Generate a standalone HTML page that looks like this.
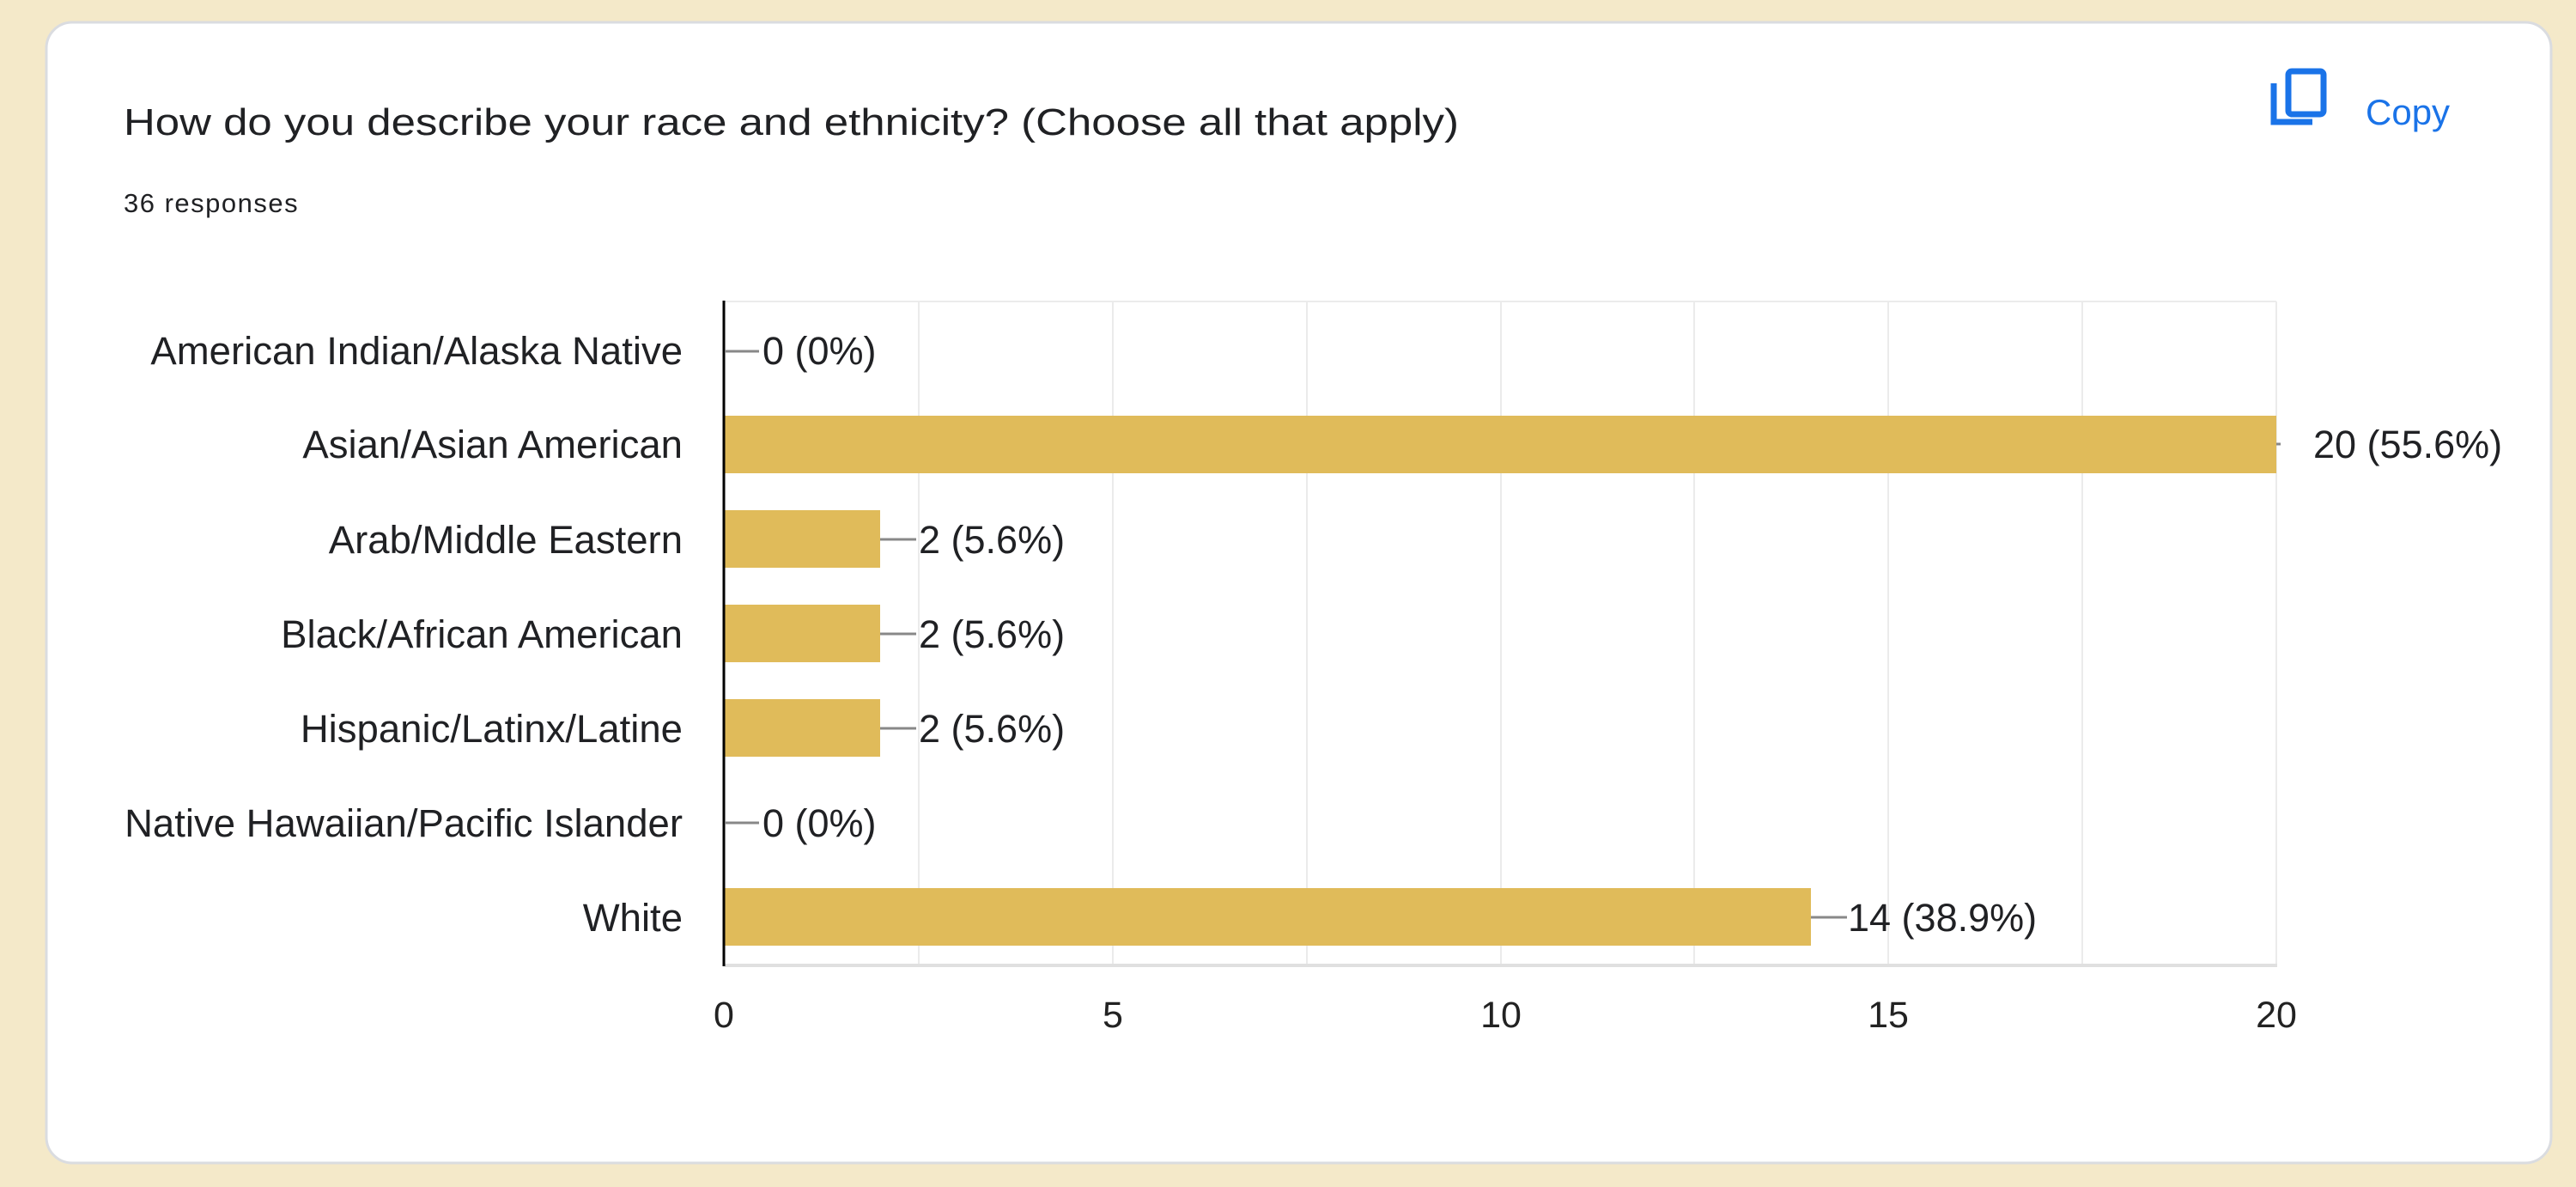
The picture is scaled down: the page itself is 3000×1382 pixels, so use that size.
<!DOCTYPE html>
<html><head><meta charset="utf-8"><style>
html,body{margin:0;padding:0;background:#f4e9c9;}
svg{display:block}
</style></head><body>
<svg width="3000" height="1382" viewBox="0 0 3000 1382" xmlns="http://www.w3.org/2000/svg" font-family="Liberation Sans, Arial, sans-serif">
<rect x="0" y="0" width="3000" height="1382" fill="#f4e9c9"/>
<rect x="54" y="26" width="2917" height="1328" rx="30" fill="#ffffff" stroke="#dadce0" stroke-width="3"/>
<text x="144" y="157" font-size="44" fill="#202124" textLength="1555" lengthAdjust="spacingAndGlyphs">How do you describe your race and ethnicity? (Choose all that apply)</text>
<text x="144" y="247" font-size="31" fill="#202124" letter-spacing="1.5">36 responses</text>
<g fill="none" stroke="#1a73e8" stroke-width="7">
<rect x="2665" y="83" width="41" height="50" rx="4"/>
<path d="M2648 97 V142 H2693"/>
</g>
<text x="2755" y="145" font-size="42" fill="#1a73e8">Copy</text>
<g stroke="#ebebeb" stroke-width="2">
<line x1="844" y1="351" x2="2651" y2="351"/>
<line x1="1070" y1="351" x2="1070" y2="1124"/>
<line x1="1296" y1="351" x2="1296" y2="1124"/>
<line x1="1522" y1="351" x2="1522" y2="1124"/>
<line x1="1748" y1="351" x2="1748" y2="1124"/>
<line x1="1973" y1="351" x2="1973" y2="1124"/>
<line x1="2199" y1="351" x2="2199" y2="1124"/>
<line x1="2425" y1="351" x2="2425" y2="1124"/>
<line x1="2651" y1="351" x2="2651" y2="1124"/>
</g>
<line x1="844" y1="1124" x2="2652" y2="1124" stroke="#e0e0e0" stroke-width="4"/>
<g fill="#e0bb5a">
<rect x="844" y="484" width="1807" height="67"/>
<rect x="844" y="594" width="181" height="67"/>
<rect x="844" y="704" width="181" height="67"/>
<rect x="844" y="814" width="181" height="67"/>
<rect x="844" y="1034" width="1265" height="67"/>
</g>
<line x1="843" y1="350" x2="843" y2="1125" stroke="#000" stroke-width="3"/>
<g stroke="#888" stroke-width="3">
<line x1="845" y1="409" x2="884" y2="409"/>
<line x1="1025" y1="628" x2="1067" y2="628"/>
<line x1="1025" y1="738" x2="1067" y2="738"/>
<line x1="1025" y1="848" x2="1067" y2="848"/>
<line x1="845" y1="958" x2="884" y2="958"/>
<line x1="2109" y1="1068" x2="2151" y2="1068"/>
<line x1="2651" y1="517" x2="2656" y2="517"/>
</g>
<g font-size="45" fill="#202124">
<text x="888" y="424">0 (0%)</text>
<text x="2694" y="533">20 (55.6%)</text>
<text x="1070" y="644">2 (5.6%)</text>
<text x="1070" y="754">2 (5.6%)</text>
<text x="1070" y="864">2 (5.6%)</text>
<text x="888" y="974">0 (0%)</text>
<text x="2152" y="1084">14 (38.9%)</text>
</g>
<g font-size="45.5" fill="#202124" text-anchor="end">
<text x="795" y="424">American Indian/Alaska Native</text>
<text x="795" y="533">Asian/Asian American</text>
<text x="795" y="644">Arab/Middle Eastern</text>
<text x="795" y="754">Black/African American</text>
<text x="795" y="864">Hispanic/Latinx/Latine</text>
<text x="795" y="974">Native Hawaiian/Pacific Islander</text>
<text x="795" y="1084">White</text>
</g>
<g font-size="43" fill="#222" text-anchor="middle">
<text x="843" y="1196">0</text>
<text x="1296" y="1196">5</text>
<text x="1748" y="1196">10</text>
<text x="2199" y="1196">15</text>
<text x="2651" y="1196">20</text>
</g>
</svg>
</body></html>
